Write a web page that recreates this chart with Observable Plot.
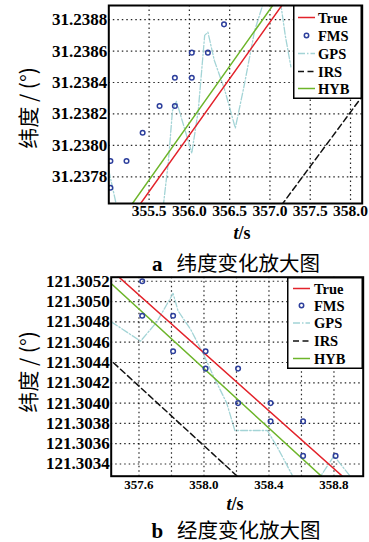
<!DOCTYPE html>
<html><head><meta charset="utf-8">
<script src="https://cdn.jsdelivr.net/npm/d3@7"></script>
<script src="https://cdn.jsdelivr.net/npm/@observablehq/plot@0.6"></script>
<style>
body{margin:0;background:#fff;}
#wrap{position:relative;width:369px;height:542px;overflow:hidden;font-family:"Liberation Serif","DejaVu Serif",serif;color:#000;}
.abs{position:absolute;line-height:1;}
.ytitle{font-family:"Noto Sans CJK SC","Liberation Serif",serif;font-size:21px;white-space:nowrap;transform:translate(-50%,-50%) rotate(-90deg);}
.xtitle{font-family:"Liberation Serif",serif;font-size:18px;font-weight:bold;transform:translate(-50%,-50%);white-space:nowrap;}
.cap{font-size:20.5px;transform:translate(-50%,-50%);white-space:nowrap;}
.cap b{font-family:"Liberation Serif",serif;font-size:21px;margin-right:14px;}
.cap span{font-family:"Noto Sans CJK SC",sans-serif;}
</style></head><body><div id="wrap"></div>
<script>
// ---------- data: panel a (latitude) ----------
const seriesNames = ["True", "FMS", "GPS", "IRS", "HYB"];
const xTicksA = [355.5, 356.0, 356.5, 357.0, 357.5, 358.0];
const yTicksA = [31.2378, 31.2380, 31.2382, 31.2384, 31.2386, 31.2388];
const trueA_t = [355.2, 357.3];
const trueA_v = [31.23749, 31.23900];
const hybA_t = [355.1, 357.2];
const hybA_v = [31.23749, 31.23901];
const irsA_t = [357.0, 358.2];
const irsA_v = [31.23752, 31.23835];
const fmsA_t = [355.02, 355.02, 355.22, 355.42, 355.63, 355.82, 355.82, 356.03, 356.03, 356.23, 356.43];
const fmsA_v = [31.23790, 31.23773, 31.23790, 31.23808, 31.23825, 31.23843, 31.23825, 31.23859, 31.23843, 31.23859, 31.23877];
const gpsA_t = [355.00, 355.09, 355.15, 355.61, 355.68, 355.74, 355.79, 355.84, 355.95, 356.03, 356.11, 356.19, 356.23, 356.31, 356.44, 356.57, 356.68, 356.81, 356.89, 356.97, 357.11, 357.19, 357.26];
const gpsA_v = [31.23784, 31.23763, 31.23745, 31.23745, 31.23763, 31.23790, 31.23822, 31.23828, 31.23809, 31.23795, 31.23822, 31.23870, 31.23872, 31.23854, 31.23835, 31.23811, 31.23838, 31.23873, 31.23886, 31.23899, 31.23899, 31.23870, 31.23850];

// ---------- data: panel b (longitude) ----------
const seriesNamesB = ["True", "FMS", "GPS", "IRS", "HYB"];
const xGridB = [357.6, 357.8, 358.0, 358.2, 358.4, 358.6, 358.8];
const xTicksB = [357.6, 358.0, 358.4, 358.8];
const yTicksB = [121.3034, 121.3036, 121.3038, 121.3040, 121.3042, 121.3044, 121.3046, 121.3048, 121.3050, 121.3052];
const trueB_t = [357.40, 358.95];
const trueB_v = [121.30535, 121.30314];
const hybB_t = [357.40, 358.90];
const hybB_v = [121.30522, 121.30302];
const irsB_t = [357.40, 358.30];
const irsB_v = [121.30446, 121.30314];
const fmsB_t = [357.62, 357.62, 357.81, 357.81, 358.01, 358.01, 358.21, 358.21, 358.41, 358.41, 358.61, 358.61, 358.81];
const fmsB_v = [121.30520, 121.30486, 121.30486, 121.30451, 121.30451, 121.30434, 121.30434, 121.30400, 121.30400, 121.30382, 121.30382, 121.30348, 121.30348];
const gpsB_t = [357.43, 357.61, 357.71, 357.81, 357.84, 357.92, 358.00, 358.06, 358.14, 358.19, 358.39, 358.45, 358.54, 358.59, 358.71, 358.80, 358.87, 358.92];
const gpsB_v = [121.30480, 121.30461, 121.30480, 121.30508, 121.30491, 121.30472, 121.30447, 121.30426, 121.30400, 121.30373, 121.30373, 121.30357, 121.30330, 121.30314, 121.30326, 121.30348, 121.30334, 121.30324];

// ---------- styles ----------
const C = {True: "#e3232b", FMS: "#2d3f9c", GPS: "#a3d4d6", IRS: "#111", HYB: "#6db52a"};
const DASH = {GPS: "7,2,1.5,2", IRS: "6,3.5"};

const zip = (t, v) => t.map((d, i) => ({t: d, v: v[i]}));

function makeChart(o) {
  const lineOpts = (name) => ({x: "t", y: "v", stroke: C[name], strokeWidth: name === "GPS" ? 1.3 : 1.5, strokeDasharray: DASH[name] || null, clip: true});
  return Plot.plot({
    width: 369, height: o.height,
    marginLeft: o.ml, marginRight: o.mr, marginTop: o.mt, marginBottom: o.mb,
    style: {fontFamily: "'Liberation Serif', serif", fontWeight: "bold", color: "#000", background: "transparent", overflow: "visible"},
    x: {domain: o.xdom},
    y: {domain: o.ydom},
    marks: [
      Plot.gridX(o.xgrid, {stroke: "#000", strokeOpacity: 0.85, strokeWidth: 1.2, strokeDasharray: "1.5,3"}),
      Plot.gridY(o.yticks, {stroke: "#000", strokeOpacity: 0.85, strokeWidth: 1.2, strokeDasharray: "1.5,3"}),
      Plot.line(o.gps, lineOpts("GPS")),
      Plot.line(o.irs, lineOpts("IRS")),
      Plot.line(o.hyb, lineOpts("HYB")),
      Plot.line(o.tru, lineOpts("True")),
      Plot.dot(o.fms, {x: "t", y: "v", r: 2.3, stroke: C.FMS, strokeWidth: 1.5, fill: "none", clip: true}),
      Plot.axisX(o.xticks, {tickSize: 0, tickPadding: o.xpad, tickFormat: d => d.toFixed(1), fontSize: o.xfs, label: null}),
      Plot.axisY(o.yticks, {tickSize: 0, tickPadding: 1.5, tickFormat: d => d.toFixed(4), fontSize: 17, label: null}),
      Plot.frame({stroke: "#000", strokeWidth: 2})
    ]
  });
}

const wrap = document.getElementById("wrap");

const chartA = makeChart({
  height: 225, ml: 108.3, mr: 7.3, mt: 5, mb: 22,
  xdom: [355.0, 358.145], ydom: [31.23763, 31.23889],
  xgrid: xTicksA, xticks: xTicksA, yticks: yTicksA, xpad: 1.5, xfs: 15.5,
  gps: zip(gpsA_t, gpsA_v), irs: zip(irsA_t, irsA_v), hyb: zip(hybA_t, hybA_v), tru: zip(trueA_t, trueA_v), fms: zip(fmsA_t, fmsA_v)
});
chartA.style.position = "absolute"; chartA.style.left = "0px"; chartA.style.top = "0px";
wrap.appendChild(chartA);

const chartB = makeChart({
  height: 245, ml: 110.7, mr: 6.3, mt: 26.7, mb: 19.3,
  xdom: [357.429, 358.98], ydom: [121.30328, 121.30524],
  xgrid: xGridB, xticks: xTicksB, yticks: yTicksB, xpad: 4, xfs: 13,
  gps: zip(gpsB_t, gpsB_v), irs: zip(irsB_t, irsB_v), hyb: zip(hybB_t, hybB_v), tru: zip(trueB_t, trueB_v), fms: zip(fmsB_t, fmsB_v)
});
chartB.style.position = "absolute"; chartB.style.left = "0px"; chartB.style.top = "250px";
wrap.appendChild(chartB);

// ---------- legends ----------
function legend(names, left, top, w, h, rows, x0, x1, tx) {
  const svg = d3.create("svg").attr("width", w).attr("height", h)
    .style("position", "absolute").style("left", left + "px").style("top", top + "px");
  svg.append("rect").attr("x", 0.75).attr("y", 0.75).attr("width", w - 1.5).attr("height", h - 1.5)
    .attr("fill", "#fff").attr("stroke", "#000").attr("stroke-width", 1.5);
  names.forEach((n, i) => {
    const y = rows[i];
    if (n === "FMS") {
      svg.append("circle").attr("cx", (x0 + x1) / 2).attr("cy", y).attr("r", 2.2)
        .attr("fill", "none").attr("stroke", C.FMS).attr("stroke-width", 1.5);
    } else {
      svg.append("line").attr("x1", x0).attr("x2", x1).attr("y1", y).attr("y2", y)
        .attr("stroke", C[n]).attr("stroke-width", 1.5).attr("stroke-dasharray", DASH[n] || null);
    }
    svg.append("text").attr("x", tx).attr("y", y).attr("dy", "0.35em")
      .attr("font-family", "'Liberation Serif', serif").attr("font-weight", "bold").attr("font-size", 14.5).text(n);
  });
  wrap.appendChild(svg.node());
}
legend(seriesNames, 292.5, 4.5, 69, 94, [12.5, 30.5, 48.5, 66.5, 83.5], 5, 22, 25);
legend(seriesNamesB, 287, 276.5, 76, 92, [11.5, 28.5, 46, 64, 81.5], 6, 23, 27);

// ---------- titles & captions ----------
function addDiv(cls, html, x, y) {
  const d = document.createElement("div");
  d.className = "abs " + cls; d.innerHTML = html;
  d.style.left = x + "px"; d.style.top = y + "px";
  wrap.appendChild(d);
}
addDiv("ytitle", "纬度 / (°)", 27, 108);
addDiv("ytitle", "纬度 / (°)", 27, 372);
addDiv("xtitle", "<i>t</i>/s", 242, 233);
addDiv("xtitle", "<i>t</i>/s", 235, 503.5);
addDiv("cap", "<b>a</b><span>纬度变化放大图</span>", 236, 263);
addDiv("cap", "<b>b</b><span>经度变化放大图</span>", 236, 529.5);
</script>
</body></html>
